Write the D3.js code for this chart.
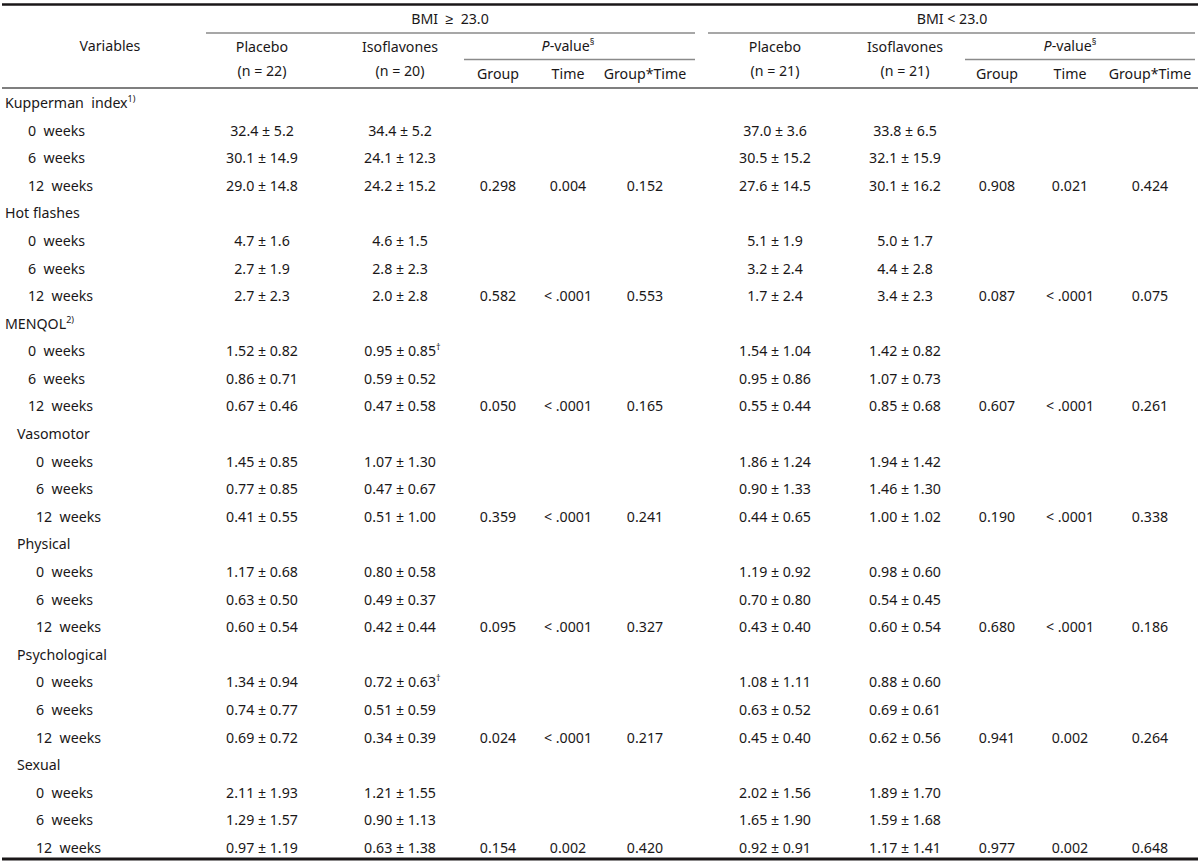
<!DOCTYPE html>
<html>
<head>
<meta charset="utf-8">
<script src="https://cdn.jsdelivr.net/npm/d3@7/dist/d3.min.js"></script>
<style>
  html, body { margin: 0; padding: 0; background: #fff; }
  svg text { font-family: "Noto Sans", sans-serif; font-size: 14.2px; fill: #1a1718; white-space: pre; }
</style>
</head>
<body>
<svg id="chart" width="1200" height="867"></svg>
<script>
// ---- Data ----
const rowLabels = [
  "Kupperman  index", "0  weeks", "6  weeks", "12  weeks",
  "Hot flashes", "0  weeks", "6  weeks", "12  weeks",
  "MENQOL", "0  weeks", "6  weeks", "12  weeks",
  "Vasomotor", "0  weeks", "6  weeks", "12  weeks",
  "Physical", "0  weeks", "6  weeks", "12  weeks",
  "Psychological", "0  weeks", "6  weeks", "12  weeks",
  "Sexual", "0  weeks", "6  weeks", "12  weeks"
];
// indent level of each row label
const rowLevels = [0,1,1,1, 0,1,1,1, 0,1,1,1, 2,3,3,3, 2,3,3,3, 2,3,3,3, 2,3,3,3];
// superscript notes on row labels
const rowNotes = {0: "1)", 8: "2)"};

// BMI >= 23.0
const placeboHigh = ["", "32.4 ± 5.2", "30.1 ± 14.9", "29.0 ± 14.8",
  "", "4.7 ± 1.6", "2.7 ± 1.9", "2.7 ± 2.3",
  "", "1.52 ± 0.82", "0.86 ± 0.71", "0.67 ± 0.46",
  "", "1.45 ± 0.85", "0.77 ± 0.85", "0.41 ± 0.55",
  "", "1.17 ± 0.68", "0.63 ± 0.50", "0.60 ± 0.54",
  "", "1.34 ± 0.94", "0.74 ± 0.77", "0.69 ± 0.72",
  "", "2.11 ± 1.93", "1.29 ± 1.57", "0.97 ± 1.19"];
const isoHigh = ["", "34.4 ± 5.2", "24.1 ± 12.3", "24.2 ± 15.2",
  "", "4.6 ± 1.5", "2.8 ± 2.3", "2.0 ± 2.8",
  "", "0.95 ± 0.85†", "0.59 ± 0.52", "0.47 ± 0.58",
  "", "1.07 ± 1.30", "0.47 ± 0.67", "0.51 ± 1.00",
  "", "0.80 ± 0.58", "0.49 ± 0.37", "0.42 ± 0.44",
  "", "0.72 ± 0.63†", "0.51 ± 0.59", "0.34 ± 0.39",
  "", "1.21 ± 1.55", "0.90 ± 1.13", "0.63 ± 1.38"];
// P-values (only on 12-week rows)
const pRows = [3, 7, 11, 15, 19, 23, 27];
const pGroupHigh = ["0.298", "0.582", "0.050", "0.359", "0.095", "0.024", "0.154"];
const pTimeHigh  = ["0.004", "< .0001", "< .0001", "< .0001", "< .0001", "< .0001", "0.002"];
const pGTHigh    = ["0.152", "0.553", "0.165", "0.241", "0.327", "0.217", "0.420"];

// BMI < 23.0
const placeboLow = ["", "37.0 ± 3.6", "30.5 ± 15.2", "27.6 ± 14.5",
  "", "5.1 ± 1.9", "3.2 ± 2.4", "1.7 ± 2.4",
  "", "1.54 ± 1.04", "0.95 ± 0.86", "0.55 ± 0.44",
  "", "1.86 ± 1.24", "0.90 ± 1.33", "0.44 ± 0.65",
  "", "1.19 ± 0.92", "0.70 ± 0.80", "0.43 ± 0.40",
  "", "1.08 ± 1.11", "0.63 ± 0.52", "0.45 ± 0.40",
  "", "2.02 ± 1.56", "1.65 ± 1.90", "0.92 ± 0.91"];
const isoLow = ["", "33.8 ± 6.5", "32.1 ± 15.9", "30.1 ± 16.2",
  "", "5.0 ± 1.7", "4.4 ± 2.8", "3.4 ± 2.3",
  "", "1.42 ± 0.82", "1.07 ± 0.73", "0.85 ± 0.68",
  "", "1.94 ± 1.42", "1.46 ± 1.30", "1.00 ± 1.02",
  "", "0.98 ± 0.60", "0.54 ± 0.45", "0.60 ± 0.54",
  "", "0.88 ± 0.60", "0.69 ± 0.61", "0.62 ± 0.56",
  "", "1.89 ± 1.70", "1.59 ± 1.68", "1.17 ± 1.41"];
const pGroupLow = ["0.908", "0.087", "0.607", "0.190", "0.680", "0.941", "0.977"];
const pTimeLow  = ["0.021", "< .0001", "< .0001", "< .0001", "< .0001", "0.002", "0.002"];
const pGTLow    = ["0.424", "0.075", "0.261", "0.338", "0.186", "0.264", "0.648"];

const groupHeaders = ["BMI  ≥  23.0", "BMI < 23.0"];
const armHeaders = [["Placebo", "(n = 22)"], ["Isoflavones", "(n = 20)"], ["Placebo", "(n = 21)"], ["Isoflavones", "(n = 21)"]];
const pHeaders = ["Group", "Time", "Group*Time"];

// ---- Layout ----
const svg = d3.select("#chart");
const colKeys = ["plH", "isH", "gH", "tH", "gtH", "plL", "isL", "gL", "tL", "gtL"];
const x = d3.scaleOrdinal().domain(colKeys)
  .range([262, 400, 498, 568, 645, 775, 905, 997, 1070, 1150]);
const y = d3.scaleLinear().domain([0, rowLabels.length - 1]).range([103, 848]);
const indent = d3.scaleOrdinal().domain([0, 1, 2, 3]).range([5, 28, 17, 36]);

const ink = "#1a1718";

function hline(x1, x2, yy, w, c) {
  svg.append("line").attr("x1", x1).attr("x2", x2).attr("y1", yy).attr("y2", yy)
    .attr("stroke", c).attr("stroke-width", w);
}
hline(2, 1198, 4.5, 2.4, ink);
hline(206, 695, 33, 1.6, "#8a8a8a");
hline(708, 1195, 33, 1.6, "#8a8a8a");
hline(464, 695, 59.5, 1.6, "#8a8a8a");
hline(965, 1195, 59.5, 1.6, "#8a8a8a");
hline(2, 1198, 88, 1.4, "#555");
hline(2, 1198, 859, 2.8, ink);

function txt(xx, yy, s, anchor) {
  return svg.append("text").attr("x", xx).attr("y", yy).attr("dy", "0.35em")
    .attr("text-anchor", anchor || "middle").text(s);
}

// header
txt(110, 46, "Variables");
txt(450, 19, groupHeaders[0]);
txt(952, 19, groupHeaders[1]);
const armCols = ["plH", "isH", "plL", "isL"];
armHeaders.forEach((h, i) => {
  txt(x(armCols[i]), 47, h[0]);
  txt(x(armCols[i]), 71, h[1]);
});
[568, 1070].forEach(cx => {
  const t = svg.append("text").attr("x", cx).attr("y", 46).attr("dy", "0.35em").attr("text-anchor", "middle");
  t.append("tspan").attr("font-style", "italic").text("P");
  t.append("tspan").text("-value");
  t.append("tspan").attr("font-size", "9px").attr("dy", "-6").text("§");
});
[["gH", "tH", "gtH"], ["gL", "tL", "gtL"]].forEach(keys => {
  keys.forEach((k, i) => txt(x(k), 74, pHeaders[i]));
});

// row labels
rowLabels.forEach((lab, i) => {
  const t = svg.append("text").attr("x", indent(rowLevels[i])).attr("y", y(i)).attr("dy", "0.35em");
  t.append("tspan").text(lab);
  if (rowNotes[i]) t.append("tspan").attr("font-size", "9px").attr("dy", "-6").text(rowNotes[i]);
});

// value cells
function valueCol(arr, key) {
  arr.forEach((v, i) => {
    if (!v) return;
    const dagger = v.endsWith("†");
    const base = dagger ? v.slice(0, -1) : v;
    const t = svg.append("text").attr("x", x(key)).attr("y", y(i)).attr("dy", "0.35em")
      .attr("text-anchor", "middle");
    t.append("tspan").text(base);
    if (dagger) {
      t.append("tspan").attr("font-size", "9px").attr("dy", "-6").text("†");
      t.attr("x", x(key) + 2.5);
    }
  });
}
valueCol(placeboHigh, "plH");
valueCol(isoHigh, "isH");
valueCol(placeboLow, "plL");
valueCol(isoLow, "isL");

function pCol(arr, key) {
  arr.forEach((v, j) => txt(x(key), y(pRows[j]), v));
}
pCol(pGroupHigh, "gH"); pCol(pTimeHigh, "tH"); pCol(pGTHigh, "gtH");
pCol(pGroupLow, "gL"); pCol(pTimeLow, "tL"); pCol(pGTLow, "gtL");
</script>
</body>
</html>
